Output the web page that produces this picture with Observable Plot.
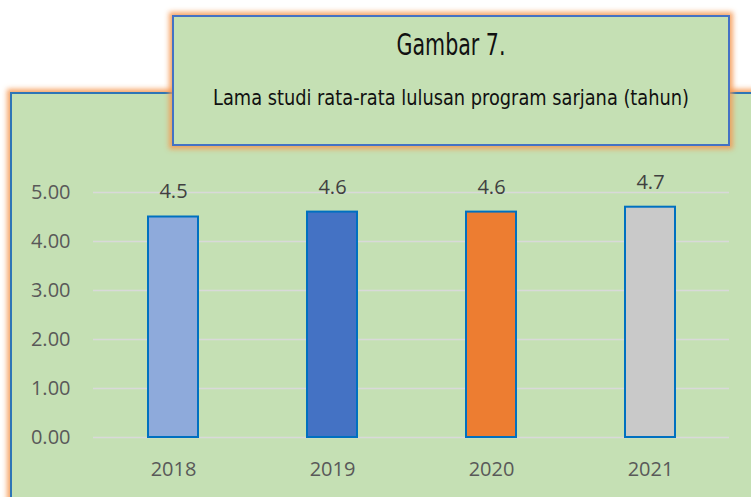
<!DOCTYPE html>
<html>
<head>
<meta charset="utf-8">
<script src="https://cdn.jsdelivr.net/npm/d3@7"></script>
<script src="https://cdn.jsdelivr.net/npm/@observablehq/plot@0.6"></script>
<style>
  html, body { margin: 0; padding: 0; background: #ffffff; }
  #wrap { position: relative; width: 751px; height: 497px; overflow: hidden; background: #ffffff; }
  #panel { position: absolute; left: 10px; top: 92px; width: 800px; height: 500px; box-sizing: border-box;
           background: #C5E0B4; border: 2px solid #2E75B6; box-shadow: 0 0 5px 3px rgba(244,150,80,0.85); z-index: 1; }
  #chart { position: absolute; left: 0; top: 0; z-index: 2; }
  #titlebox { position: absolute; left: 172px; top: 15px; width: 558px; height: 131px; box-sizing: border-box;
              background: #C5E0B4; border: 2px solid #4472C4; box-shadow: 0 0 5px 3px rgba(244,150,80,0.85); z-index: 3; }
  #titletext { position: absolute; left: 0; top: 0; z-index: 4; overflow: visible; }
</style>
</head>
<body>
<div id="wrap">
  <div id="panel"></div>
  <div id="chart"></div>
  <div id="titlebox"></div>
  <svg id="titletext" width="751" height="160" xmlns="http://www.w3.org/2000/svg">
    <text x="451" y="55" text-anchor="middle" font-size="30" fill="#111"
      font-family="'Liberation Sans Narrow','DejaVu Sans Condensed','Roboto Condensed','Open Sans',sans-serif"
      textLength="109" lengthAdjust="spacingAndGlyphs">Gambar 7.</text>
    <text x="451" y="105" text-anchor="middle" font-size="22" fill="#111"
      font-family="'Liberation Sans Narrow','DejaVu Sans Condensed','Roboto Condensed','Open Sans',sans-serif"
      textLength="476" lengthAdjust="spacingAndGlyphs">Lama studi rata-rata lulusan program sarjana (tahun)</text>
  </svg>
</div>
<script>
const years = ["2018", "2019", "2020", "2021"];
const values = [4.5, 4.6, 4.6, 4.7];
const barColors = ["#8EAADB", "#4472C4", "#ED7D31", "#C9C9C9"];
const yTicks = [0, 1, 2, 3, 4, 5];

const data = years.map((y, i) => ({year: y, value: values[i]}));

const chart = Plot.plot({
  width: 751,
  height: 497,
  marginLeft: 93,
  marginRight: 22,
  marginTop: 192,
  marginBottom: 60,
  style: {background: "transparent", color: "#595959", fontFamily: "'Open Sans', sans-serif", fontSize: "20px", overflow: "visible"},
  x: {domain: years, paddingInner: 0.686, paddingOuter: 0.343, label: null},
  y: {domain: [0, 5], label: null},
  color: {domain: years, range: barColors},
  marks: [
    Plot.ruleY(yTicks, {stroke: "#D9D9D9", strokeWidth: 1.5, strokeOpacity: 1}),
    Plot.barY(data, {x: "year", y: "value", fill: "year", stroke: "#0070C0", strokeWidth: 2}),
    Plot.text(data, {x: "year", y: "value", text: d => d.value.toFixed(1), dy: -25, fill: "#404040", fontSize: 20}),
    Plot.axisY({ticks: yTicks, tickFormat: d3.format(".2f"), tickSize: 0, tickPadding: 23, fontSize: 20, label: null}),
    Plot.axisX({tickSize: 0, tickPadding: 24, fontSize: 20, label: null})
  ]
});
document.getElementById("chart").appendChild(chart);
</script>
</body>
</html>
